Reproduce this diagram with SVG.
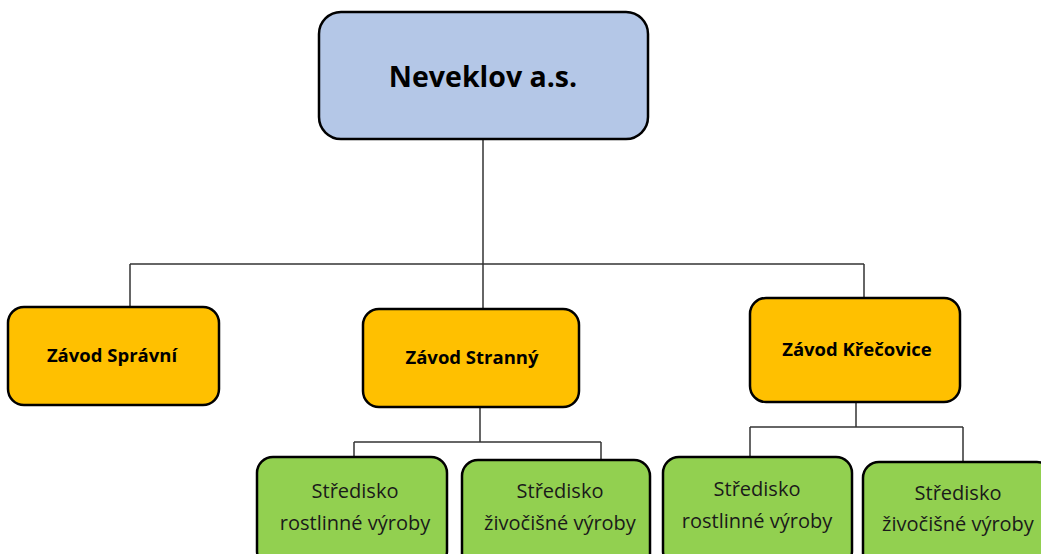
<svg xmlns="http://www.w3.org/2000/svg" width="1041" height="554" viewBox="0 0 1041 554">
<style>
.box{stroke:#000;stroke-width:2.5}
.top{fill:#B4C7E7}
.org{fill:#FFC000}
.grn{fill:#92D050}
.conn line{stroke:#333;stroke-width:1.5}
text{font-family:"Open Sans","Liberation Sans",Arial,sans-serif;fill:#000;text-anchor:middle}
.b{font-weight:bold;font-size:18.5px}
.g{font-size:20px;fill:#1a1a1a}
</style>
<rect width="1041" height="554" fill="#fff"/>
<g class="conn">
<line x1="483" y1="139" x2="483" y2="309"/>
<line x1="130" y1="264" x2="864" y2="264"/>
<line x1="130" y1="264" x2="130" y2="307"/>
<line x1="864" y1="264" x2="864" y2="298"/>
<line x1="480" y1="407" x2="480" y2="442"/>
<line x1="354" y1="442" x2="601" y2="442"/>
<line x1="354" y1="442" x2="354" y2="457"/>
<line x1="601" y1="442" x2="601" y2="460"/>
<line x1="856" y1="402" x2="856" y2="427"/>
<line x1="750" y1="427" x2="963" y2="427"/>
<line x1="750" y1="427" x2="750" y2="457"/>
<line x1="963" y1="427" x2="963" y2="462"/>
</g>
<g id="neveklov">
<rect class="box top" x="319" y="12" width="329" height="127" rx="22"/>
<text x="483" y="87" style="font-weight:bold;font-size:28.5px">Neveklov a.s.</text>
</g>
<g id="spravni">
<rect class="box org" x="8" y="307" width="211" height="98" rx="16"/>
<text class="b" x="112" y="362">Závod Správní</text>
</g>
<g id="stranny">
<rect class="box org" x="363" y="309" width="216" height="98" rx="16"/>
<text class="b" x="472" y="364">Závod Stranný</text>
</g>
<g id="krecovice">
<rect class="box org" x="750" y="298" width="210" height="104" rx="16"/>
<text class="b" x="857" y="356">Závod Křečovice</text>
</g>
<g id="stranny-rostlinne">
<rect class="box grn" x="257" y="457" width="190" height="110" rx="16"/>
<text class="g" x="355" y="498">Středisko</text>
<text class="g" x="355" y="530">rostlinné výroby</text>
</g>
<g id="stranny-zivocisne">
<rect class="box grn" x="462" y="460" width="188" height="110" rx="16"/>
<text class="g" x="560" y="498">Středisko</text>
<text class="g" x="560" y="530">živočišné výroby</text>
</g>
<g id="krecovice-rostlinne">
<rect class="box grn" x="663" y="457" width="189" height="110" rx="16"/>
<text class="g" x="757" y="496">Středisko</text>
<text class="g" x="757" y="528">rostlinné výroby</text>
</g>
<g id="krecovice-zivocisne">
<rect class="box grn" x="863" y="462" width="190" height="110" rx="16"/>
<text class="g" x="958" y="500">Středisko</text>
<text class="g" x="958" y="531">živočišné výroby</text>
</g>
</svg>
